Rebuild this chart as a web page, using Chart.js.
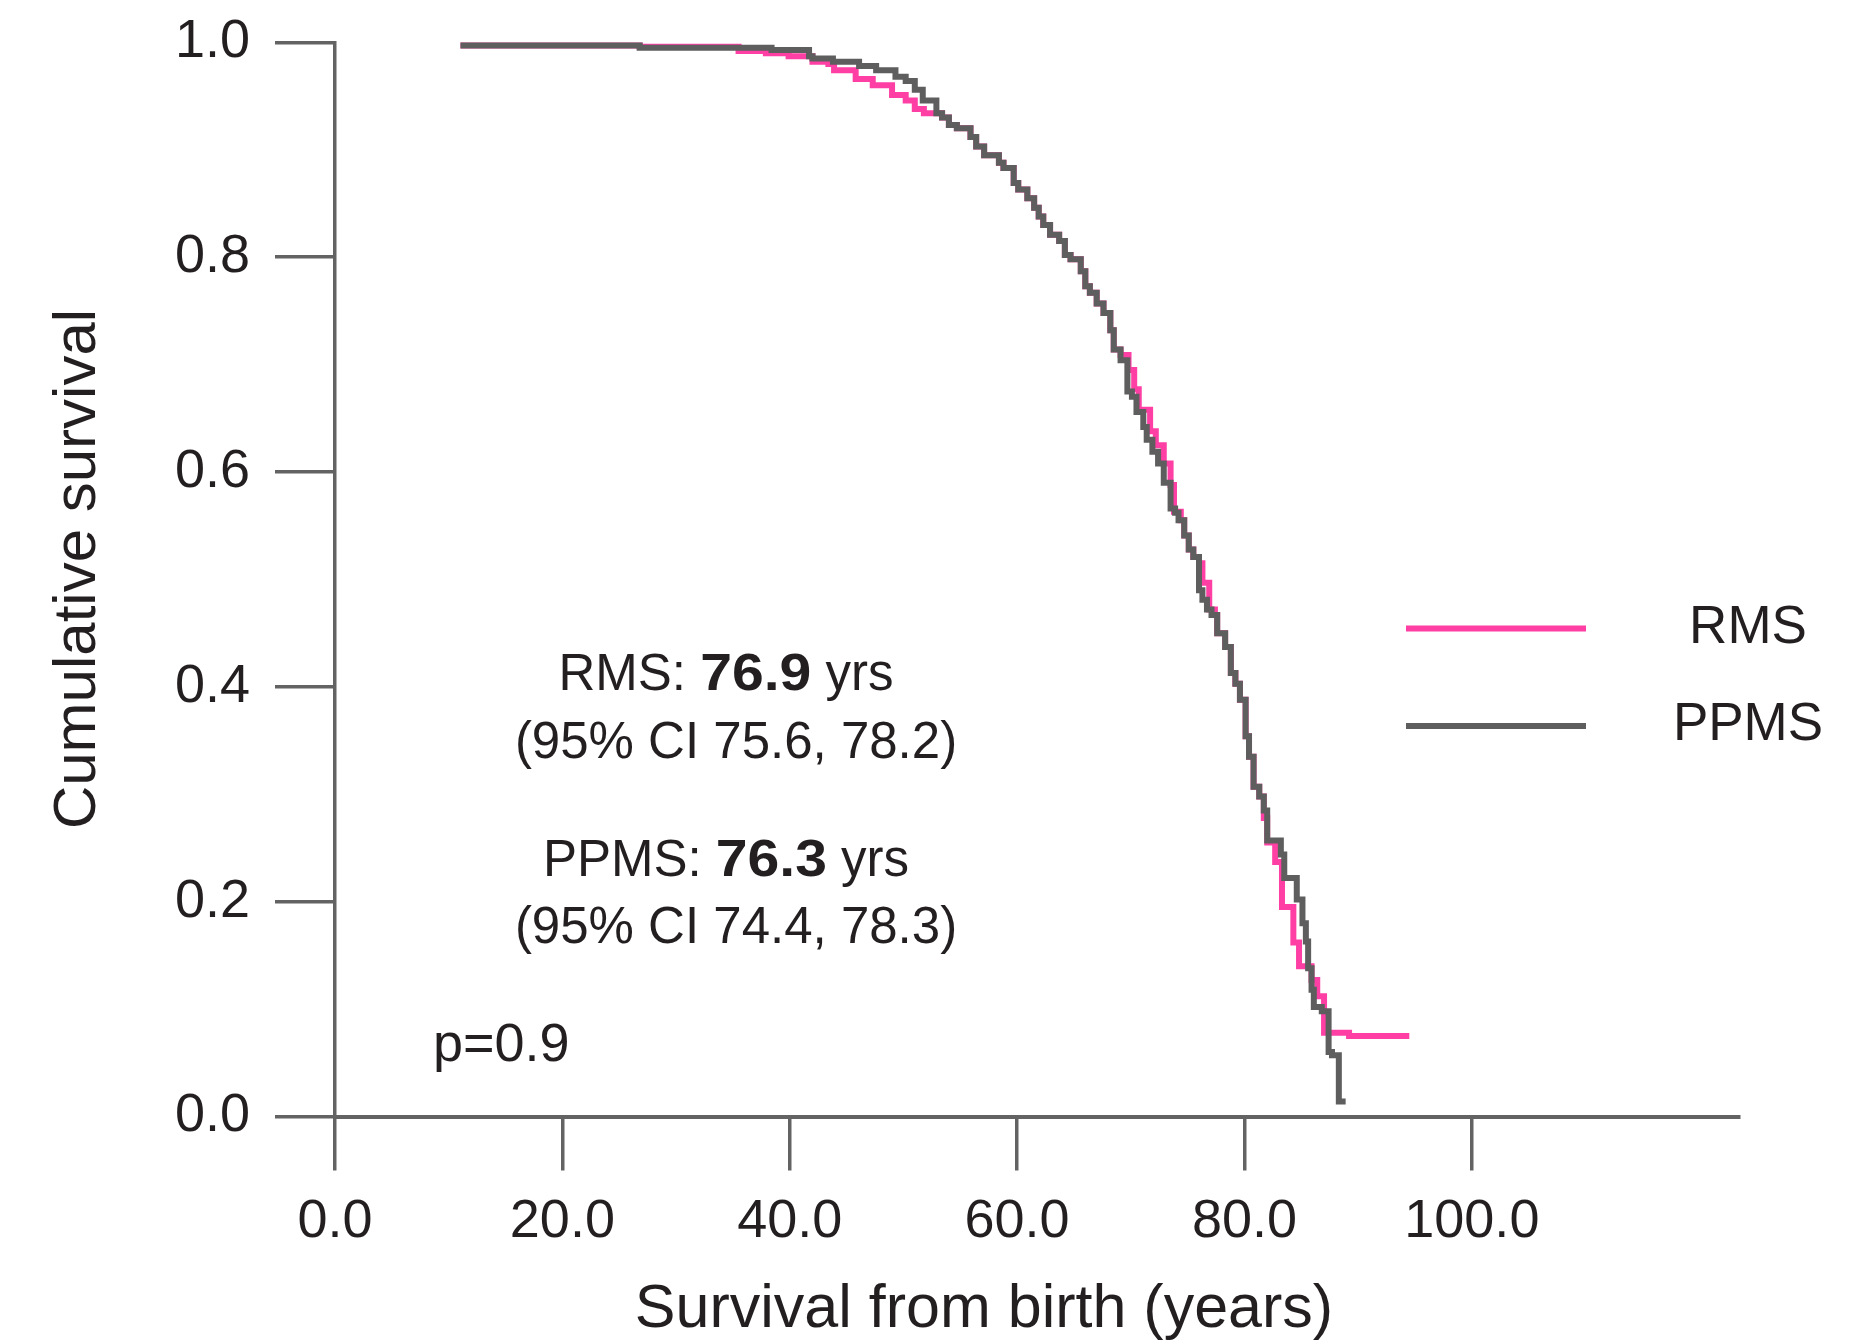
<!DOCTYPE html>
<html>
<head>
<meta charset="utf-8">
<title>Survival from birth</title>
<script src="https://cdn.jsdelivr.net/npm/chart.js@4.4.1/dist/chart.umd.min.js"></script>
<style>
  html, body { margin: 0; padding: 0; background: #fff; }
  #wrap { width: 1849px; height: 1343px; }
</style>
</head>
<body>
<div id="wrap"><canvas id="kmChart" width="1849" height="1343"></canvas></div>
<script>
// Kaplan-Meier steps: age (years) at each drop and the survival after it
const rmsYears = [11.3, 26.8, 35.5, 37.9, 39.9, 42.0, 43.4, 43.9, 45.8, 47.3, 49.0, 50.2, 51.0, 51.8, 53.4,
  54.0, 54.7, 55.9, 56.4, 57.1, 58.4, 58.8, 59.7, 60.1, 60.9, 61.5, 61.9, 62.3, 62.9, 63.7, 64.2, 64.7,
  65.6, 66.0, 66.4, 67.0, 67.6, 68.2, 68.5, 69.1, 69.8, 70.3, 70.7, 71.7, 72.2, 72.9, 73.5, 73.8, 74.4,
  74.7, 75.1, 75.5, 76.0, 76.3, 76.9, 77.4, 77.6, 78.3, 78.8, 79.2, 79.6, 80.1, 80.4, 80.8, 81.3, 81.7,
  82.0, 82.7, 83.3, 84.3, 84.8, 85.9, 86.4, 87.0, 89.2, 90.5, 94.5];
const rmsSurvival = [1.000, 0.997, 0.996, 0.992, 0.990, 0.987, 0.982, 0.980, 0.974, 0.966, 0.960, 0.951, 0.946, 0.938, 0.934,
  0.930, 0.923, 0.920, 0.912, 0.903, 0.895, 0.888, 0.883, 0.869, 0.863, 0.855, 0.846, 0.838, 0.830, 0.821, 0.815, 0.802,
  0.798, 0.787, 0.773, 0.767, 0.757, 0.748, 0.732, 0.714, 0.709, 0.695, 0.677, 0.658, 0.638, 0.625, 0.608, 0.588, 0.563,
  0.555, 0.541, 0.528, 0.521, 0.515, 0.497, 0.472, 0.467, 0.450, 0.437, 0.413, 0.403, 0.388, 0.354, 0.335, 0.307, 0.298,
  0.278, 0.255, 0.237, 0.195, 0.162, 0.140, 0.127, 0.112, 0.078, 0.075, 0.075];

const ppmsYears = [11.3, 26.8, 38.4, 41.7, 42.0, 43.8, 46.1, 47.6, 49.3, 50.2, 51.0, 51.7, 52.9, 53.4,
  54.0, 54.7, 55.9, 56.4, 57.1, 58.4, 58.8, 59.7, 60.1, 60.9, 61.5, 61.9, 62.3, 62.9, 63.7, 64.2, 64.7,
  65.6, 66.0, 66.4, 67.0, 67.6, 68.2, 68.5, 69.1, 69.7, 70.1, 70.5, 71.1, 71.4, 71.9, 72.4, 72.9, 73.5,
  73.9, 74.2, 74.7, 75.1, 75.5, 76.0, 76.3, 76.7, 77.1, 77.6, 78.3, 78.8, 79.2, 79.6, 80.1, 80.4, 80.8,
  81.3, 81.7, 82.0, 83.2, 83.5, 84.6, 85.1, 85.4, 85.6, 85.9, 86.1, 86.8, 87.4, 87.7, 88.3, 88.9];
const ppmsSurvival = [1.000, 0.997, 0.995, 0.993, 0.987, 0.985, 0.982, 0.978, 0.974, 0.968, 0.964, 0.956, 0.946, 0.934,
  0.930, 0.923, 0.920, 0.912, 0.903, 0.895, 0.888, 0.883, 0.869, 0.863, 0.855, 0.846, 0.838, 0.830, 0.821, 0.815, 0.802,
  0.798, 0.787, 0.773, 0.767, 0.757, 0.748, 0.732, 0.714, 0.704, 0.675, 0.670, 0.656, 0.642, 0.630, 0.619, 0.608, 0.590,
  0.566, 0.562, 0.555, 0.541, 0.528, 0.521, 0.490, 0.481, 0.472, 0.467, 0.450, 0.437, 0.413, 0.403, 0.388, 0.354, 0.335,
  0.307, 0.298, 0.285, 0.257, 0.244, 0.222, 0.202, 0.180, 0.163, 0.138, 0.118, 0.102, 0.098, 0.060, 0.057, 0.014];

const xTickValues = [0, 20, 40, 60, 80, 100];
const yTickValues = [0, 0.2, 0.4, 0.6, 0.8, 1.0];

const seriesNames = ['RMS', 'PPMS'];
const seriesColors = ['#ff3fa4', '#5e5e5e'];
const medianYears = [76.9, 76.3];
const medianCI = [[75.6, 78.2], [74.4, 78.3]];
const pValue = 0.9;

const xTitle = 'Survival from birth (years)';
const yTitle = 'Cumulative survival';

const axisColor = '#636363';
const textColor = '#231f20';
const FONT = '"Liberation Sans", Arial, Helvetica, sans-serif';

const toPoints = (xs, ys) => xs.map((x, i) => ({ x: x, y: ys[i] }));

// axis titles, legend swatches and the median / p-value notes
const notes = {
  id: 'notes',
  afterDraw(chart) {
    const ctx = chart.ctx;
    ctx.save();
    ctx.fillStyle = textColor;

    // axis titles (x title sits left of the plot centre)
    ctx.font = '61px ' + FONT;
    ctx.textAlign = 'center';
    ctx.textBaseline = 'middle';
    ctx.fillText(xTitle, 984, 1310);
    ctx.save();
    ctx.translate(78, 569);
    ctx.rotate(-Math.PI / 2);
    ctx.font = '60px ' + FONT;
    ctx.fillText(yTitle, 0, 0);
    ctx.restore();

    // legend: line on the left, name centred on the right
    const legendY = [628.5, 726];
    seriesNames.forEach((name, i) => {
      ctx.strokeStyle = seriesColors[i];
      ctx.lineWidth = 6;
      ctx.beginPath();
      ctx.moveTo(1406, legendY[i]);
      ctx.lineTo(1586, legendY[i]);
      ctx.stroke();
      ctx.font = '53px ' + FONT;
      ctx.textAlign = 'center';
      ctx.textBaseline = 'alphabetic';
      ctx.fillText(name, 1748, legendY[i] + 14);
    });

    // median survival lines; the bold figure is drawn a little wider
    const drawParts = (parts, cx, y) => {
      let total = 0;
      parts.forEach(p => {
        ctx.font = (p.bold ? 'bold ' : '') + '51px ' + FONT;
        p.sx = p.bold ? 1.12 : 1;
        p.w = ctx.measureText(p.text).width * p.sx;
        total += p.w;
      });
      let x = cx - total / 2;
      ctx.textAlign = 'left';
      parts.forEach(p => {
        ctx.font = (p.bold ? 'bold ' : '') + '51px ' + FONT;
        ctx.save();
        ctx.translate(x, y);
        ctx.scale(p.sx, 1);
        ctx.fillText(p.text, 0, 0);
        ctx.restore();
        x += p.w;
      });
    };

    ctx.textBaseline = 'alphabetic';
    const baselines = [[690, 758], [876, 943]];
    seriesNames.forEach((name, i) => {
      drawParts([
        { text: name + ': ' },
        { text: medianYears[i].toFixed(1), bold: true },
        { text: ' yrs' }
      ], 726, baselines[i][0]);
      drawParts([
        { text: '(95% CI ' + medianCI[i][0].toFixed(1) + ', ' + medianCI[i][1].toFixed(1) + ')' }
      ], 736, baselines[i][1]);
    });

    ctx.font = '54px ' + FONT;
    ctx.textAlign = 'left';
    ctx.fillText('p=' + pValue, 433, 1061);
    ctx.restore();
  }
};

const ctx = document.getElementById('kmChart').getContext('2d');
const kmChart = new Chart(ctx, {
  type: 'scatter',
  data: {
    datasets: [
      {
        label: seriesNames[0],
        data: toPoints(rmsYears, rmsSurvival),
        borderColor: seriesColors[0],
        order: 1
      },
      {
        label: seriesNames[1],
        data: toPoints(ppmsYears, ppmsSurvival),
        borderColor: seriesColors[1],
        order: 0
      }
    ].map(d => Object.assign(d, {
      showLine: true,
      stepped: 'after',
      borderWidth: 6,
      borderCapStyle: 'butt',
      borderJoinStyle: 'miter',
      pointRadius: 0,
      pointHoverRadius: 0,
      fill: false,
      clip: false
    }))
  },
  options: {
    responsive: false,
    devicePixelRatio: 1,
    animation: false,
    events: [],
    layout: { padding: { top: 42.4, right: 110, bottom: 0, left: 0 } },
    plugins: {
      legend: { display: false },
      tooltip: { enabled: false }
    },
    scales: {
      x: {
        type: 'linear',
        min: 0,
        max: 123.5,
        afterBuildTicks: s => { s.ticks = xTickValues.map(v => ({ value: v })); },
        afterFit: s => { s.height = 226.5; s.paddingLeft = 0; s.paddingRight = 0; },
        border: { display: true, color: axisColor, width: 4 },
        grid: { drawOnChartArea: false, drawTicks: true, tickLength: 54, color: axisColor, lineWidth: 3.5 },
        ticks: {
          padding: 19,
          maxRotation: 0,
          autoSkip: false,
          color: textColor,
          font: { family: FONT, size: 54 },
          callback: v => Number(v).toFixed(1)
        }
      },
      y: {
        type: 'linear',
        min: 0,
        max: 1,
        afterBuildTicks: s => { s.ticks = yTickValues.map(v => ({ value: v })); },
        afterFit: s => { s.width = 335; s.paddingTop = 0; s.paddingBottom = 0; },
        border: { display: true, color: axisColor, width: 3.5 },
        grid: { drawOnChartArea: false, drawTicks: true, tickLength: 60, color: axisColor, lineWidth: 3.5 },
        ticks: {
          padding: 25,
          color: textColor,
          font: { family: FONT, size: 54 },
          callback: v => Number(v).toFixed(1)
        }
      }
    }
  },
  plugins: [notes]
});
</script>
</body>
</html>
